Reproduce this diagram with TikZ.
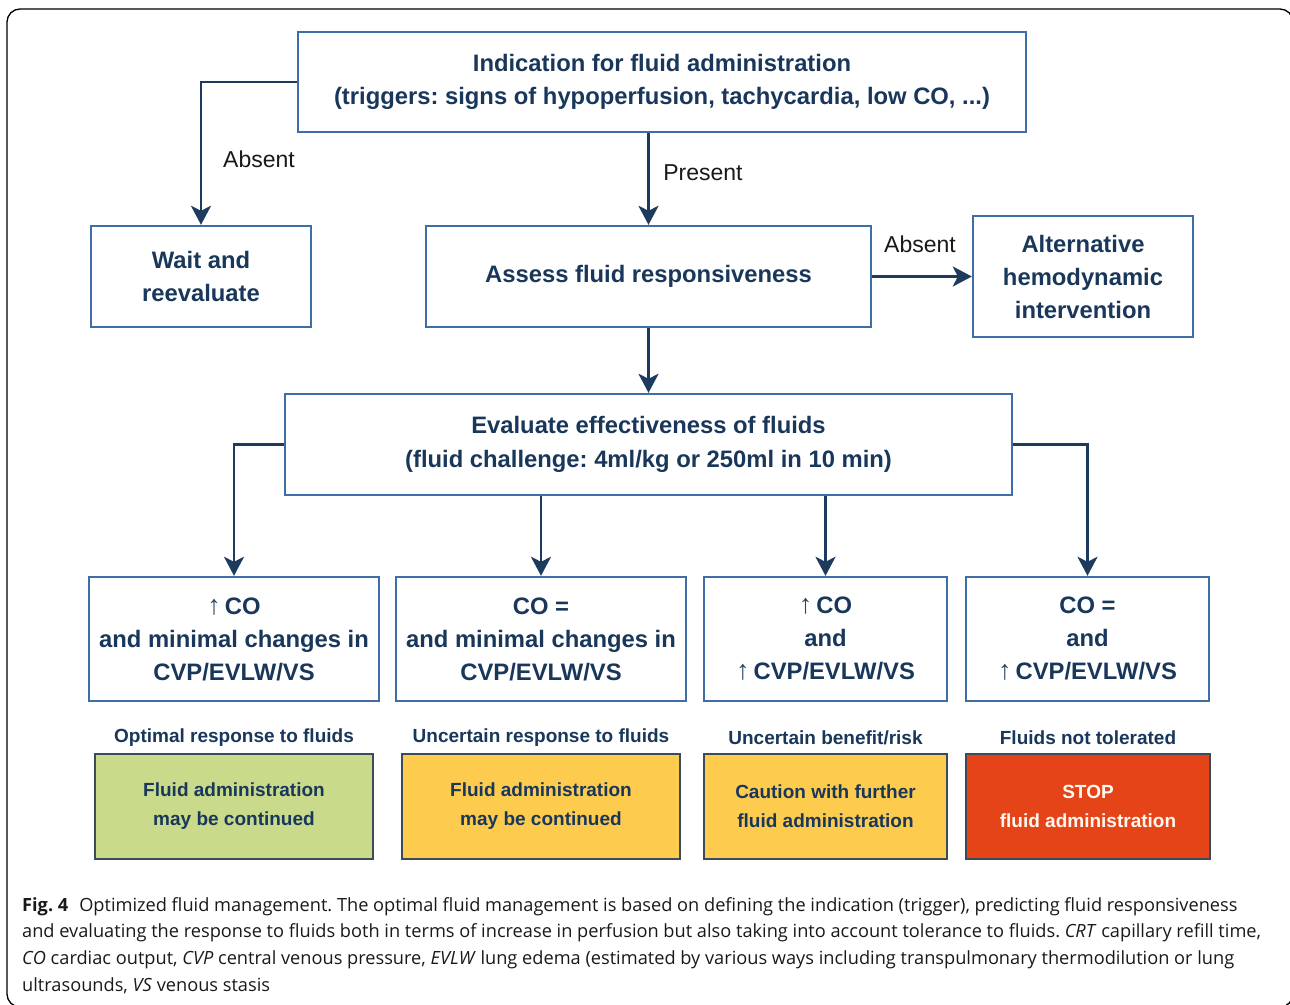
\documentclass[tikz,border=0pt]{standalone}
\usepackage{fontspec}
\setmainfont{Liberation Sans}
\newfontfamily\capfont{Open Sans}
\usetikzlibrary{arrows.meta}
\frenchspacing
\definecolor{boxblue}{HTML}{3D6FA6}
\definecolor{navy}{HTML}{19375A}
\definecolor{connc}{HTML}{1D3B5C}
\definecolor{cborder}{HTML}{3C4B5A}
\definecolor{cgreen}{HTML}{C9DA8B}
\definecolor{cyellow}{HTML}{FDCB4E}
\definecolor{cred}{HTML}{E44418}
\newcommand{\upar}{{\mdseries\color{navy!80!gray}\fontsize{27}{27}\selectfont ↑}}
\tikzset{
  box/.style={draw=boxblue, line width=2.4pt, rectangle, inner sep=0pt, align=center,
    text=navy, font=\bfseries\fontsize{23.8}{33}\selectfont},
  cbox/.style={draw=cborder, line width=2pt, rectangle, inner sep=0pt, align=center,
    text=navy, font=\bfseries\fontsize{19}{29}\selectfont, minimum height=105pt},
  resplabel/.style={text=navy, font=\bfseries\fontsize{19}{22}\selectfont, inner sep=0pt},
  lbl/.style={text=black!90, font=\fontsize{23}{26}\selectfont, inner sep=0pt},
  conn/.style={draw=connc, line width=2.8pt, -{Stealth[length=19pt,width=20pt,inset=5pt]}},
  capline/.style={anchor=base west, inner sep=0pt, font=\capfont\fontsize{18.2}{22}\selectfont, text=black!90}
}
\begin{document}
\begin{tikzpicture}[x=1pt,y=-1pt]
\useasboundingbox (0,0) rectangle (1290,1004);
\begin{scope}
\clip (0,0) rectangle (1290,1004);
\draw[black, line width=1.3pt, rounded corners=13pt] (7,9) rectangle (1293,1007);
\end{scope}

\node[box, minimum width=728pt, minimum height=100pt] (top) at (662,82)
  {Indication for fluid administration\\(triggers: signs of hypoperfusion, tachycardia, low CO, ...)};
\node[box, minimum width=220pt, minimum height=101pt] (wait) at (201,276.5) {Wait and\\reevaluate};
\node[box, minimum width=445pt, minimum height=101pt] (assess) at (648.5,276.5) {Assess fluid responsiveness};
\node[box, minimum width=220pt, minimum height=121pt] (alt) at (1083,276.5) {Alternative\\hemodynamic\\intervention};
\node[box, minimum width=727pt, minimum height=101pt, font=\bfseries\fontsize{23.8}{34}\selectfont] (eval) at (648.5,444.5)
  {Evaluate effectiveness of fluids\\(fluid challenge: 4ml/kg or 250ml in 10 min)};

\node[box, minimum width=290pt, minimum height=124pt] (b1) at (234,639) {\upar\,CO\\and minimal changes in\\CVP/EVLW/VS};
\node[box, minimum width=290pt, minimum height=124pt] (b2) at (541,639) {CO =\\and minimal changes in\\CVP/EVLW/VS};
\node[box, minimum width=243pt, minimum height=124pt] (b3) at (825.5,639) {\upar\,CO\\and\\\upar\,CVP/EVLW/VS};
\node[box, minimum width=243pt, minimum height=124pt] (b4) at (1087.5,639) {CO =\\and\\\upar\,CVP/EVLW/VS};

\node[resplabel] (c1) at (234,738) {Optimal response to fluids};
\node[resplabel] (c2) at (541,738) {Uncertain response to fluids};
\node[resplabel] (c3) at (825.5,738) {Uncertain benefit/risk};
\node[resplabel] (c4) at (1088,738) {Fluids not tolerated};

\node[cbox, fill=cgreen, minimum width=278pt] (r1) at (234,806.5) {Fluid administration\\may be continued};
\node[cbox, fill=cyellow, minimum width=278pt] (r2) at (541,806.5) {Fluid administration\\may be continued};
\node[cbox, fill=cyellow, minimum width=243pt] (r3) at (825.5,806.5) {Caution with further\\fluid administration};
\node[cbox, fill=cred, minimum width=244pt, text=white!95!orange] (r4) at (1088,806.5) {STOP\\fluid administration};

\draw[conn] (top.west) -| (wait.north);
\node[lbl] (l1) at (259,159) {Absent};
\draw[conn] (assess.north |- top.south) -- (assess.north);
\node[lbl] (l2) at (703,173) {Present};
\draw[conn] (assess.east) -- (alt.west);
\node[lbl] (l3) at (920,244) {Absent};
\draw[conn] (assess.south) -- (eval.north);
\draw[conn] (eval.west) -| (b1.north);
\draw[conn] (b2.north |- eval.south) -- (b2.north);
\draw[conn] (b3.north |- eval.south) -- (b3.north);
\draw[conn] (eval.east) -| (b4.north);

\node[capline] (t1) at (22,911) {\textbf{Fig. 4}\hspace{0.6em}Optimized fluid management. The optimal fluid management is based on defining the indication (trigger), predicting fluid responsiveness};
\node[capline] (t2) at (22,937) {and evaluating the response to fluids both in terms of increase in perfusion but also taking into account tolerance to fluids. \textit{CRT} capillary refill time,};
\node[capline] (t3) at (22,964) {\textit{CO} cardiac output, \textit{CVP} central venous pressure, \textit{EVLW} lung edema (estimated by various ways including transpulmonary thermodilution or lung};
\node[capline] (t4) at (22,991) {ultrasounds, \textit{VS} venous stasis};
\end{tikzpicture}
\end{document}
